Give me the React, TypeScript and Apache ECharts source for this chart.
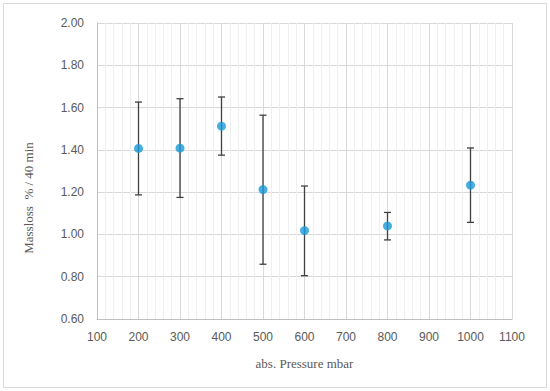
import React, { useEffect, useRef } from "react";
import * as echarts from "echarts";

const pressures = [200, 300, 400, 500, 600, 800, 1000];
const massloss = [1.407, 1.408, 1.512, 1.212, 1.018, 1.04, 1.233];
const errLow = [1.187, 1.175, 1.375, 0.859, 0.805, 0.974, 1.057];
const errHigh = [1.626, 1.642, 1.65, 1.564, 1.229, 1.104, 1.409];
const xTitle = "abs. Pressure mbar";
const yTitle = "Massloss  % / 40 min";

export default function App() {
  const ref = useRef<HTMLDivElement>(null);
  useEffect(() => {
    if (!ref.current) return;
    const chart = echarts.init(ref.current, null, { renderer: "svg" });
    const labelColor = "#595959";
    chart.setOption({
      animation: false,
      backgroundColor: "#ffffff",
      grid: { left: 97, right: 38, top: 23, bottom: 72, containLabel: false },
      graphic: [
        {
          type: "rect",
          shape: { x: 3.5, y: 3.5, width: 543, height: 384 },
          style: { fill: "none", stroke: "#d9d9d9", lineWidth: 1 },
          silent: true,
          z: -10,
        },
        {
          type: "text",
          x: 28,
          y: 198,
          rotation: Math.PI / 2,
          style: {
            text: yTitle,
            fill: labelColor,
            font: "13px 'Liberation Serif', serif",
            align: "center",
            verticalAlign: "middle",
          },
        },
      ],
      xAxis: {
        type: "value",
        min: 100,
        max: 1100,
        interval: 100,
        name: xTitle,
        nameLocation: "middle",
        nameGap: 38,
        nameTextStyle: { color: labelColor, fontFamily: "'Liberation Serif', serif", fontSize: 13 },
        axisLine: { show: true, lineStyle: { color: "#bfbfbf", width: 1 } },
        axisTick: { show: false },
        axisLabel: {
          color: labelColor,
          fontSize: 12,
          fontFamily: "'Liberation Sans', sans-serif",
          margin: 12,
          formatter: (v: number) => String(v),
        },
        splitLine: { show: true, lineStyle: { color: "#d9d9d9", width: 1 } },
        minorTick: { show: false, splitNumber: 5 },
        minorSplitLine: { show: true, lineStyle: { color: "#efefef", width: 1 } },
      },
      yAxis: {
        type: "value",
        min: 0.6,
        max: 2.0,
        interval: 0.2,
        axisLine: { show: true, lineStyle: { color: "#bfbfbf", width: 1 } },
        axisTick: { show: false },
        axisLabel: {
          color: labelColor,
          fontSize: 12,
          fontFamily: "'Liberation Sans', sans-serif",
          margin: 13,
          formatter: (v: number) => v.toFixed(2),
        },
        splitLine: { show: true, lineStyle: { color: "#d9d9d9", width: 1 } },
      },
      series: [
        {
          type: "custom",
          z: 2,
          data: pressures.map((p, i) => [p, errLow[i], errHigh[i]]),
          renderItem: (params: any, api: any) => {
            const x = api.value(0);
            const lo = api.coord([x, api.value(1)]);
            const hi = api.coord([x, api.value(2)]);
            const half = 3.5;
            const style = { stroke: "#404040", lineWidth: 1.3 };
            return {
              type: "group",
              children: [
                { type: "line", shape: { x1: lo[0], y1: lo[1], x2: hi[0], y2: hi[1] }, style },
                { type: "line", shape: { x1: lo[0] - half, y1: lo[1], x2: lo[0] + half, y2: lo[1] }, style },
                { type: "line", shape: { x1: hi[0] - half, y1: hi[1], x2: hi[0] + half, y2: hi[1] }, style },
              ],
            };
          },
        },
        {
          type: "scatter",
          z: 3,
          symbol: "circle",
          symbolSize: 9,
          itemStyle: { color: "#1a9ad8" },
          data: pressures.map((p, i) => [p, massloss[i]]),
        },
      ],
    });
    return () => chart.dispose();
  }, []);
  return (
    <div
      ref={ref}
      style={{ position: "absolute", left: 0, top: 0, width: 550, height: 391 }}
    />
  );
}
